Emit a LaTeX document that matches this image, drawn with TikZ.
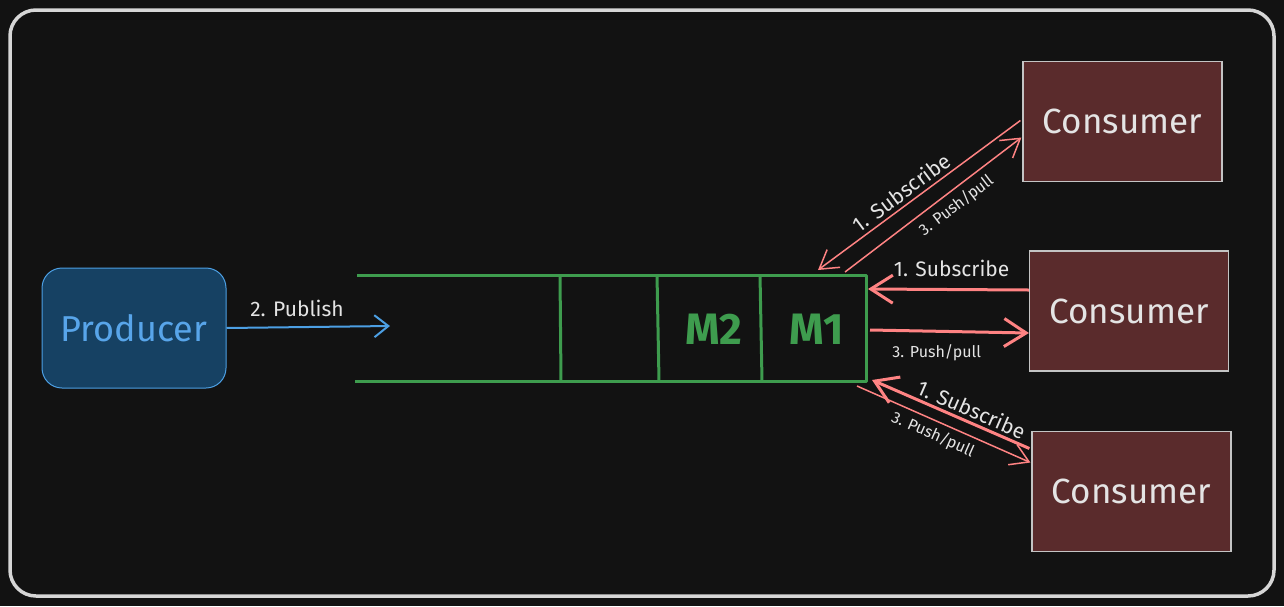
\documentclass[tikz,border=0pt]{standalone}
\usepackage{fontspec}
\setmainfont{Fira Sans}
\usetikzlibrary{arrows.meta,calc}
\definecolor{bg}{HTML}{121212}
\definecolor{framec}{HTML}{D6D6D6}
\definecolor{prodfill}{HTML}{164163}
\definecolor{prodline}{HTML}{4C9FE3}
\definecolor{bluetext}{HTML}{58A5EA}
\definecolor{consfill}{HTML}{5A2B2C}
\definecolor{consline}{HTML}{C4C4C4}
\definecolor{qgreen}{HTML}{3E9C4E}
\definecolor{redc}{HTML}{FF8383}
\definecolor{txt}{HTML}{E4E4E4}
\tikzset{
  frame/.style={draw=framec, line width=3.5pt, rounded corners=26pt},
  producer/.style={draw=prodline, fill=prodfill, line width=1pt, rounded corners=20pt,
    minimum width=184pt, minimum height=120pt, text=bluetext, font=\fontsize{36}{36}\selectfont},
  consumer/.style={draw=consline, fill=consfill, line width=1.2pt,
    minimum width=199pt, minimum height=120pt, text=txt, font=\fontsize{35}{35}\selectfont},
  queue/.style={draw=qgreen, line width=3pt, line join=round},
  celltext/.style={text=qgreen, font=\fontsize{44}{44}\selectfont\bfseries},
  lbl/.style={text=txt, font=\fontsize{21}{21}\selectfont, inner sep=2pt},
  slbl/.style={text=txt, font=\fontsize{16}{16}\selectfont, inner sep=2pt},
  bluearrow/.style={draw=prodline, line width=2pt, -{Straight Barb[length=14pt,width=22pt]}},
  thinred/.style={draw=redc, line width=1.5pt, -{Straight Barb[length=18pt,width=22pt]}},
  thickred/.style={draw=redc, line width=3pt, -{Straight Barb[length=22pt,width=28pt]}},
}
\begin{document}
\begin{tikzpicture}[x=1pt,y=-1pt]
\useasboundingbox (0,0) rectangle (1284,606);
\fill[bg] (0,0) rectangle (1284,606);
\draw[frame] (10,10) rectangle (1274,596);

% producer
\node[producer] (prod) at (134,328) {Producer};

% queue
\coordinate (qtl) at (357,275);
\coordinate (qtr) at (866,275);
\coordinate (qbr) at (866,381);
\coordinate (qbl) at (355,381);
\draw[queue] (qtl) -- (qtr) -- (qbr) -- (qbl);
\coordinate (d1t) at (560,275); \coordinate (d1b) at (561,381);
\coordinate (d2t) at (657,275); \coordinate (d2b) at (659,381);
\coordinate (d3t) at (760,275); \coordinate (d3b) at (762,381);
\draw[queue] (d1t) -- (d1b);
\draw[queue] (d2t) -- (d2b);
\draw[queue] (d3t) -- (d3b);
\node[celltext] (m2) at (714,329) {M2};
\node[celltext] (m1) at (817,329) {M1};

% consumers
\node[consumer] (c1) at (1122.5,121.5) {Consumer};
\node[consumer] (c2) at (1129,311) {Consumer};
\node[consumer] (c3) at (1131.5,491.5) {Consumer};

% publish
\coordinate (pubend) at (390,326);
\draw[bluearrow] (prod.east) -- (pubend);
\node[lbl] (publbl) at (297,308) {2. Publish};

% top consumer
\coordinate (q1in) at (818,270);
\coordinate (q1out) at (845,272);
\draw[thinred] ($(c1.west)+(-2,-1)$) -- (q1in)
  node[lbl, pos=0.55, sloped, above=2pt] (l1s) {1. Subscribe};
\draw[thinred] (q1out) -- ($(c1.west)+(-1,16)$)
  node[slbl, pos=0.58, sloped, below=4pt] (l1p) {3. Push/pull};

% middle consumer
\coordinate (q2in) at (868,289);
\coordinate (q2out) at (870,330);
\draw[thickred] ($(c2.west)+(0,-21)$) -- (q2in)
  node[lbl, pos=0.48, above=9pt] (l2s) {1. Subscribe};
\draw[thickred] (q2out) -- ($(c2.west)+(0,22)$)
  node[slbl, pos=0.42, below=10pt] (l2p) {3. Push/pull};

% bottom consumer
\coordinate (q3in) at (872,380);
\coordinate (q3out) at (857,386);
\draw[thickred] ($(c3.west)+(-2,-43)$) -- (q3in)
  node[lbl, pos=0.4, sloped, above=1pt] (l3s) {1. Subscribe};
\draw[thinred] (q3out) -- ($(c3.west)+(-1,-29)$)
  node[slbl, pos=0.47, sloped, below=3pt] (l3p) {3. Push/pull};
\end{tikzpicture}
\end{document}
